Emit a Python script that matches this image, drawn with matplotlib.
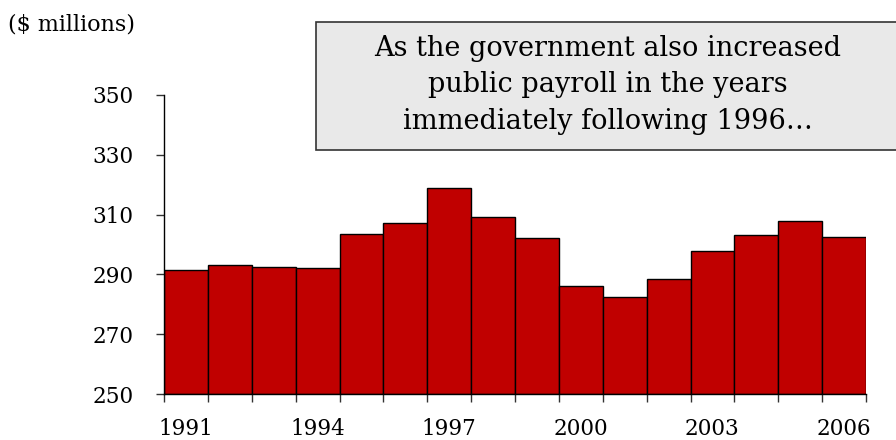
import matplotlib
matplotlib.use("Agg")
import matplotlib.pyplot as plt
from matplotlib.patches import Rectangle

years = list(range(1991, 2007))
values = [291.6, 293.2, 292.4, 292.2, 303.6, 307.3, 318.8, 309.3, 302.1,
          286.0, 282.6, 288.6, 297.7, 303.2, 307.7, 302.4]
year_labels = ["1991", "1994", "1997", "2000", "2003", "2006"]
label_years = [1991, 1994, 1997, 2000, 2003, 2006]
y_ticks = [250, 270, 290, 310, 330, 350]
unit_label = "(\\$ millions)"
note = "As the government also increased\npublic payroll in the years\nimmediately following 1996…"

plt.rcParams['font.family'] = ['DejaVu Serif']

fig = plt.figure(figsize=(8.96, 4.4), dpi=100)
ax = fig.add_axes([164/896, 1-394/440, (866-164)/896, (394-95)/440])

ax.bar(years, [v - 250 for v in values], bottom=250, width=1.0,
       color="#c00000", edgecolor="black", linewidth=1.0, align="center")

ax.set_xlim(1990.5, 2006.5)
ax.set_ylim(250, 350)
ax.set_yticks(y_ticks)
ax.set_yticklabels([str(t) for t in y_ticks], fontsize=15.5)
ax.set_xticks(label_years)
ax.set_xticklabels(year_labels, fontsize=15.5)
ax.set_xticks([y - 0.5 for y in years] + [2006.5], minor=True)
ax.tick_params(axis="x", which="major", length=0, pad=17)
ax.tick_params(axis="x", which="minor", length=5.8, width=1, color="#333333", direction="out")
ax.tick_params(axis="y", which="major", length=5.8, width=1, color="#333333", direction="out", pad=16)

for s in ["top", "right"]:
    ax.spines[s].set_visible(False)
for s in ["left", "bottom"]:
    ax.spines[s].set_color("black")
    ax.spines[s].set_linewidth(1.0)

fig.text(8/896, 1-25/440, unit_label, fontsize=16, ha="left", va="center")

box = Rectangle((316/896, 1-150/440), 600/896, 128/440, transform=fig.transFigure,
                facecolor="#e9e9e9", edgecolor="#333333", linewidth=1.2, clip_on=False)
fig.patches.append(box)
fig.text(608/896, 1-85/440, note, fontsize=19.5, ha="center", va="center",
         linespacing=1.45)

fig.savefig("out.png", dpi=100)
